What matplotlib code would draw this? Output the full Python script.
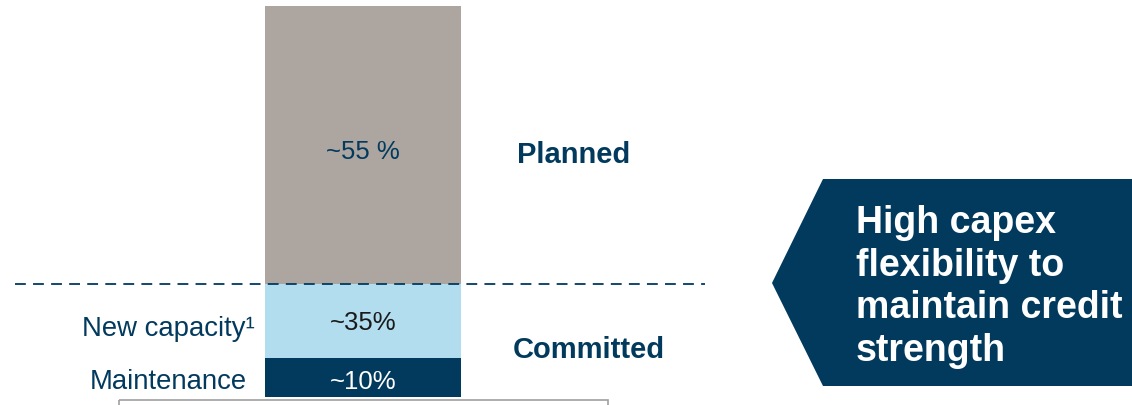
import matplotlib.pyplot as plt
from matplotlib.patches import Polygon, Rectangle

plt.rcParams['font.family'] = ['Liberation Sans', 'DejaVu Sans']

# segment data (bottom to top)
segments = ['Maintenance', 'New capacity¹', 'Planned']
shares = ['~10%', '~35%', '~55 %']
heights = [10, 19, 71]          # drawn heights (bar not to scale)
groups = ['Committed', 'Planned']
message = 'High capex\nflexibility to\nmaintain credit\nstrength'

navy = '#023A5E'
light = '#B1DDEE'
grey = '#ADA59F'
colors = [navy, light, grey]
label_colors = ['white', '#1A1A1A', navy]

W, H = 1132, 406
fig = plt.figure(figsize=(W / 100, H / 100), dpi=100)

# background axes in pixel coordinates for the decorations
deco = fig.add_axes([0, 0, 1, 1])
deco.set_xlim(0, W)
deco.set_ylim(H, 0)
deco.axis('off')

# the stacked bar
ax = fig.add_axes([265 / W, (H - 398) / H, 196 / W, 391 / H])
ax.set_xlim(-0.5, 0.5)
ax.set_ylim(0, 100)
ax.axis('off')

share_dy = [-1.0, -0.3, -1.5]
name_x = [-0.592, -0.551, None]
name_dy = [-0.8, -1.8, None]

bottom = 0
for i, (name, share, h) in enumerate(zip(segments, shares, heights)):
    ax.bar(0, h, width=1, bottom=bottom, color=colors[i], edgecolor='none')
    ax.text(0, bottom + h / 2 + share_dy[i], share, ha='center', va='center',
            fontsize=18.5, color=label_colors[i])
    if name_x[i] is not None:
        ax.text(name_x[i], bottom + h / 2 + name_dy[i], name, ha='right',
                va='center', fontsize=19.8, color=navy, clip_on=False)
    bottom += h

committed = heights[0] + heights[1]

# dashed split between committed and planned
ax.plot([-1.776, 1.745], [committed, committed], color=navy, lw=1.3,
        ls=(0, (6, 4)), clip_on=False, zorder=5)

ax.text(1.153, committed / 2 - 2.3, groups[0], ha='center', va='center',
        fontsize=21, fontweight='bold', color=navy, clip_on=False)
ax.text(1.077, committed + heights[2] / 2 - 2.3, groups[1], ha='center',
        va='center', fontsize=21, fontweight='bold', color=navy, clip_on=False)

# arrow callout
deco.add_patch(Polygon([(772, 284), (823, 180), (W + 5, 180), (W + 5, 387),
                        (823, 387)], closed=True, facecolor=navy,
                       edgecolor='none'))
deco.text(856, 287, message, ha='left', va='center', fontsize=27,
          fontweight='bold', color='white', linespacing=1.24)

# frame peeking at the bottom
deco.add_patch(Rectangle((118.5, 400.5), 489, 30, facecolor='none',
                         edgecolor='#A0A0A0', lw=1.2))

fig.savefig('out.png', dpi=100)
